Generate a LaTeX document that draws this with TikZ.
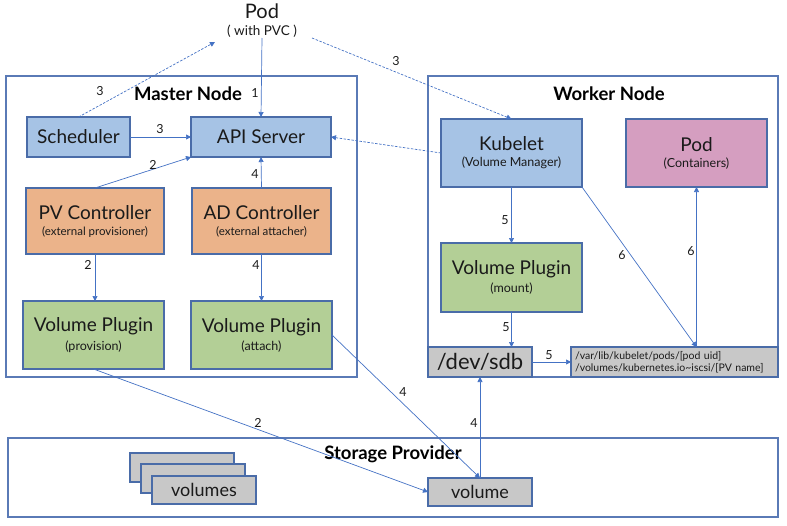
\documentclass[tikz,border=0pt]{standalone}
\usepackage{fontspec}
\setmainfont{Lato}
\usetikzlibrary{arrows.meta,calc}
\definecolor{bluefill}{HTML}{A6C3E5}
\definecolor{orangefill}{HTML}{EBB38A}
\definecolor{greenfill}{HTML}{B3CF96}
\definecolor{pinkfill}{HTML}{D59EC0}
\definecolor{grayfill}{HTML}{C8C8C8}
\definecolor{boxline}{HTML}{4A6CA8}
\definecolor{frameline}{HTML}{5A7AB6}
\definecolor{arrline}{HTML}{4472C4}
\definecolor{txt}{HTML}{1A1A1A}
\newcommand{\fs}[1]{\fontsize{#1}{#1}\selectfont}
\tikzset{
  box/.style={draw=boxline, line width=1.2pt, inner sep=0pt, outer sep=0pt, align=center, text=txt},
  frame/.style={draw=frameline, line width=1.2pt, inner sep=0pt, outer sep=0pt},
  arr/.style={draw=arrline, line width=0.7pt, -{Triangle[length=5pt,width=5pt]}},
  dasharr/.style={arr, dash pattern=on 2.5pt off 1.5pt},
  num/.style={font=\fs{12.5}, inner sep=0pt, text=txt},
  title/.style={font=\fs{18.5}\bfseries, inner sep=0pt},
}
\begin{document}
\begin{tikzpicture}[x=1pt,y=-1pt]
\useasboundingbox (0,0) rectangle (787,525);
% frames
\node[frame, minimum width=351pt, minimum height=301pt] (master) at (181.5,226.5) {};
\node[frame, minimum width=350pt, minimum height=301pt] (worker) at (603,226.5) {};
\node[frame, minimum width=770pt, minimum height=79pt] (storage) at (393,477.5) {};
\node[title] (mastert) at (188,94) {Master Node};
\node[title] (workert) at (609,94) {Worker Node};
\node[title] (storaget) at (393,454) {Storage Provider};
% pod title
\node[inner sep=0pt, align=center, text=txt] (pod) at (262,21) {{\fs{20}Pod}\\[5pt]{\fs{13.5}( with PVC )}};
\coordinate (podS) at (262,38);
\coordinate (podL) at (215,42);
\coordinate (podR) at (312,38);
% master boxes
\node[box, fill=bluefill, minimum width=103pt, minimum height=40pt, font=\fs{19}] (sched) at (78.5,137) {Scheduler};
\node[box, fill=bluefill, minimum width=140pt, minimum height=40pt, font=\fs{19}] (api) at (261,137) {API Server};
\node[box, fill=orangefill, minimum width=138pt, minimum height=66pt] (pvc) at (95,221) {{\fs{19}PV Controller}\\[4pt]{\fs{11.5}(external provisioner)}};
\node[box, fill=orangefill, minimum width=139pt, minimum height=66pt] (adc) at (261.5,221) {{\fs{19}AD Controller}\\[4pt]{\fs{11.5}(external attacher)}};
\node[box, fill=greenfill, minimum width=141pt, minimum height=68pt] (vpprov) at (93.5,335) {{\fs{19}Volume Plugin}\\[4pt]{\fs{12.5}(provision)}};
\node[box, fill=greenfill, minimum width=141pt, minimum height=68pt] (vpatt) at (261.5,335) {{\fs{19}Volume Plugin}\\[4pt]{\fs{12.5}(attach)}};
% worker boxes
\node[box, fill=bluefill, minimum width=141pt, minimum height=68pt] (kubelet) at (511.5,153) {{\fs{19}Kubelet}\\[4pt]{\fs{12.5}(Volume Manager)}};
\node[box, fill=pinkfill, minimum width=141pt, minimum height=68pt] (podc) at (696.5,153) {{\fs{19}Pod}\\[4pt]{\fs{12.5}(Containers)}};
\node[box, fill=greenfill, minimum width=141pt, minimum height=69pt] (vpmount) at (511.5,277.5) {{\fs{19}Volume Plugin}\\[4pt]{\fs{12.5}(mount)}};
\node[box, fill=grayfill, minimum width=104pt, minimum height=30pt, font=\fs{22}] (sdb) at (480,362) {/dev/sdb};
\node[box, fill=grayfill, minimum width=207pt, minimum height=30pt, align=left, text width=199pt, inner xsep=4pt, font=\fs{10.5}] (path) at (674.5,362) {/var/lib/kubelet/pods/[pod uid]\\[1pt]/volumes/kubernetes.io\textasciitilde iscsi/[PV name]};
% storage boxes
\node[box, fill=grayfill, minimum width=104pt, minimum height=29pt] (vs1) at (182,467.5) {};
\node[box, fill=grayfill, minimum width=104pt, minimum height=29pt] (vs2) at (193,478.5) {};
\node[box, fill=grayfill, minimum width=104pt, minimum height=28pt, font=\fs{18}] (vs3) at (204,490) {volumes};
\node[box, fill=grayfill, minimum width=104pt, minimum height=28pt, font=\fs{18}] (volume) at (480,492) {volume};
% connectors
\draw[arr] (podS) -- (api.north);
\node[num] (l1) at (255,93) {1};
\draw[dasharr] (sched.north) -- (podL);
\node[num] (l3a) at (100,91) {3};
\draw[arr] (sched.east) -- (api.west);
\node[num] (l3b) at (160,129) {3};
\draw[arr] (pvc.north) -- (api.south west);
\node[num] (l2a) at (153,165) {2};
\draw[arr] (adc.north) -- (api.south);
\node[num] (l4a) at (255,174) {4};
\draw[arr] (pvc.south) -- (pvc.south |- vpprov.north);
\node[num] (l2b) at (88,265) {2};
\draw[arr] (adc.south) -- (adc.south |- vpatt.north);
\node[num] (l4b) at (256,265) {4};
\draw[arr] (vpprov.south) -- (volume.west);
\node[num] (l2c) at (258,423) {2};
\draw[arr] (vpatt.east) -- (volume.north);
\node[num] (l4c) at (403,392) {4};
\draw[arr] (volume.north) -- (sdb.south);
\node[num] (l4d) at (474,423) {4};
\draw[dasharr] (kubelet.west) -- (api.east);
\draw[dasharr] (podR) -- (kubelet.north);
\node[num] (l3c) at (396,61) {3};
\draw[arr] (kubelet.south) -- (vpmount.north);
\node[num] (l5a) at (505,220) {5};
\draw[arr] (vpmount.south) -- (vpmount.south |- sdb.north);
\node[num] (l5b) at (506,327) {5};
\draw[arr] (sdb.east) -- (path.west);
\node[num] (l5c) at (549,355) {5};
\draw[arr] (kubelet.south east) -- (podc.south |- path.north);
\node[num] (l6a) at (622,255) {6};
\draw[arr] (podc.south |- path.north) -- (podc.south);
\node[num] (l6b) at (691,251) {6};
\end{tikzpicture}
\end{document}
